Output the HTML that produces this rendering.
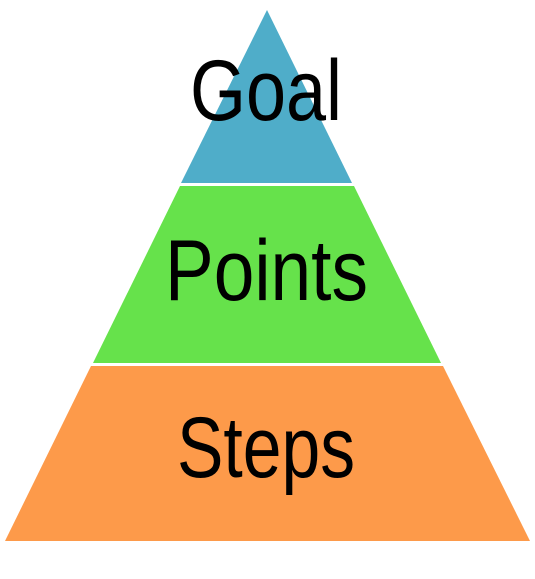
<!DOCTYPE html>
<html><head><style>html,body{margin:0;padding:0;background:#fff;}</style></head>
<body>
<svg width="535" height="574" viewBox="0 0 535 574" xmlns="http://www.w3.org/2000/svg">
<polygon points="267,10 352,183 181,183" fill="#4fadc9"/>
<polygon points="180,186 354,186 441,363 93,363" fill="#66e24b"/>
<polygon points="91,366 443,366 530,541 5,541" fill="#fd9a4a"/>
<g font-family="'Liberation Sans', 'DejaVu Sans', sans-serif" font-size="86" fill="#000">
<text x="190" y="120" textLength="152" lengthAdjust="spacingAndGlyphs">Goal</text>
<text x="165" y="300" textLength="203" lengthAdjust="spacingAndGlyphs">Points</text>
<text x="177" y="477" textLength="178" lengthAdjust="spacingAndGlyphs">Steps</text>
</g>
</svg>
</body></html>
